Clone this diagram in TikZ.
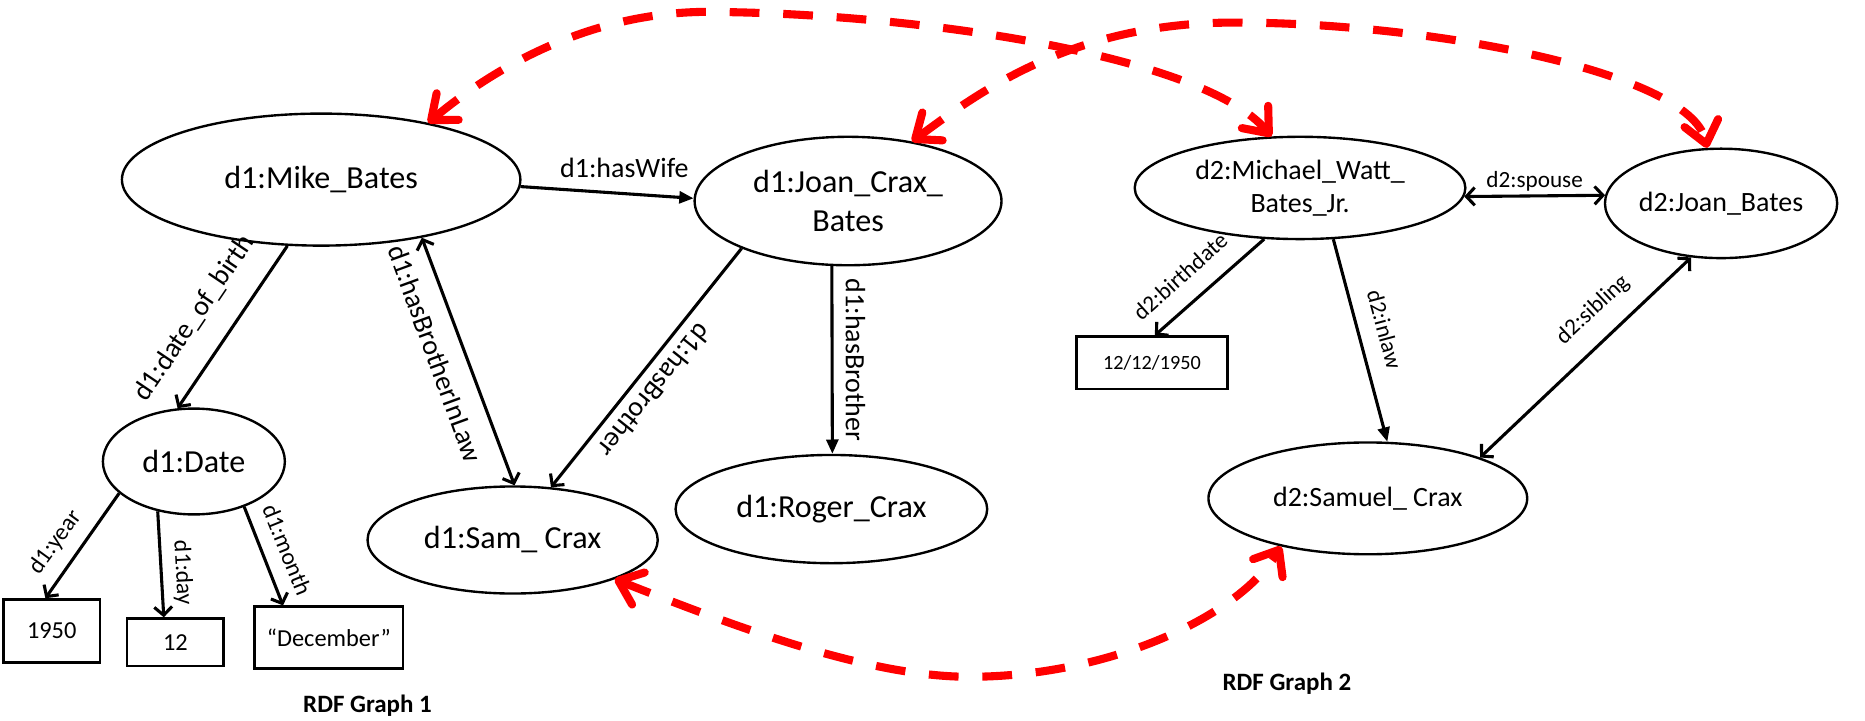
\documentclass[tikz,border=0pt]{standalone}
\usepackage{fontspec}
\setmainfont{Carlito}
\usetikzlibrary{shapes.geometric,arrows.meta}

\begin{document}
\begin{tikzpicture}[x=1pt,y=-1pt,
	ent_node/.style={ellipse,draw,line width=2pt,inner sep=0pt,align=center,font=\fontsize{27}{33}\selectfont},
	ent2_node/.style={ent_node,font=\fontsize{23.5}{28}\selectfont},
	lit_node/.style={rectangle,draw,line width=2pt,inner sep=0pt,font=\fontsize{20.5}{24}\selectfont},
	lit2_node/.style={lit_node,font=\fontsize{17}{20}\selectfont},
	rel_edge/.style={line width=2.6pt,-{Straight Barb[length=7pt,width=15pt]}},
	relf_edge/.style={line width=2.6pt,-{Triangle[length=12pt,width=10pt]}},
	sym_edge/.style={line width=2.6pt,{Straight Barb[length=7pt,width=15pt]}-{Straight Barb[length=7pt,width=15pt]}},
	link_edge/.style={draw=red,line width=6.8pt,dash pattern=on 25pt off 20pt,{Straight Barb[round,length=18pt,width=29pt]}-{Straight Barb[round,length=18pt,width=29pt]}},
	lbl/.style={font=\fontsize{23.5}{28}\selectfont},
	lbl_s/.style={font=\fontsize{20}{24}\selectfont},
	lbl2/.style={font=\fontsize{19.5}{23}\selectfont}]

	\useasboundingbox (0,0) rectangle (1568,606);

	\node[ent_node,minimum width=335pt,minimum height=111pt] (Mike) at (270,151) {d1:Mike\_Bates};
	\node[ent_node,minimum width=258pt,minimum height=108pt] (Joan) at (713,169) {d1:Joan\_Crax\_\\Bates};
	\node[ent_node,minimum width=153pt,minimum height=89pt] (Date) at (163,388) {d1:Date};
	\node[ent_node,minimum width=244pt,minimum height=90pt] (Sam) at (431,454) {d1:Sam\_ Crax};
	\node[ent_node,minimum width=262pt,minimum height=91pt] (Roger) at (699,428) {d1:Roger\_Crax};
	\node[lit_node,minimum width=81pt,minimum height=53pt] (Year) at (43.5,530.5) {1950};
	\node[lit_node,minimum width=81pt,minimum height=40pt] (Day) at (147.5,540) {12};
	\node[lit_node,minimum width=125pt,minimum height=52pt] (Month) at (276.5,536) {“December”};
	\node[font=\bfseries\fontsize{21}{25}\selectfont] (G1) at (309,593) {RDF Graph 1};

	\node[ent2_node,minimum width=278pt,minimum height=86pt] (Michael) at (1093,158) {d2:Michael\_Watt\_\\Bates\_Jr.};
	\node[ent2_node,minimum width=185pt,minimum height=92pt] (JoanB) at (1447,171) {d2:Joan\_Bates};
	\node[ent2_node,minimum width=268pt,minimum height=94pt] (Samuel) at (1150,419) {d2:Samuel\_ Crax};
	\node[lit2_node,minimum width=127pt,minimum height=44pt] (Bdate) at (968.5,305) {12/12/1950};
	\node[font=\bfseries\fontsize{21}{25}\selectfont] (G2) at (1082,575) {RDF Graph 2};

	\draw[relf_edge] (Mike.-2) -- node[lbl,pos=.6,anchor=south,inner sep=12pt] {d1:hasWife} (Joan.179);
	\draw[rel_edge] (Mike.-117) -- node[lbl,pos=.57,rotate=56,anchor=south,inner sep=20pt] {d1:date\_of\_birth} (Date.107);
	\draw[sym_edge] (Mike.-30) -- node[lbl,pos=.43,rotate=-70,anchor=north,inner sep=14pt] {d1:hasBrotherInLaw} (Sam.88);
	\draw[rel_edge] (Joan.-156) -- node[lbl,pos=.54,rotate=-128.6,anchor=south,inner sep=8pt] {d1:hasBrother} (Sam.54);
	\draw[relf_edge] (Joan.-104) -- node[lbl,pos=.5,rotate=-90,anchor=south,inner sep=10pt] {d1:hasBrother} (Roger.89);
	\draw[rel_edge] (Date.-157) -- node[lbl_s,pos=.6,rotate=54,anchor=south,inner sep=10pt] {d1:year} (Year.101);
	\draw[rel_edge] (Date.-126) -- node[lbl_s,pos=.59,rotate=-87,anchor=south,inner sep=8pt] {d1:day} (Day.115);
	\draw[rel_edge] (Date.-42) -- node[lbl_s,pos=.53,rotate=-68,anchor=south,inner sep=12pt] {d1:month} (Month.145);

	\draw[sym_edge] (Michael.-3) -- node[lbl2,anchor=south,inner sep=3pt] {d2:spouse} (JoanB.176);
	\draw[rel_edge] (Michael.-125) -- node[lbl2,pos=.6,rotate=42,anchor=south,inner sep=15pt] {d2:birthdate} (Bdate.84);
	\draw[relf_edge] (Michael.-57) -- node[lbl2,pos=.48,rotate=-75,anchor=south,inner sep=14pt] {d2:inlaw} (Samuel.71);
	\draw[sym_edge] (JoanB.-119) -- node[lbl2,pos=.37,rotate=43,anchor=south,inner sep=15pt] {d2:sibling} (Samuel.20);

	\draw[link_edge] (Mike.28) .. controls (400,70) and (480,12) .. (590,10) .. controls (760,10) and (1010,45) .. (Michael.119);
	\draw[link_edge] (Joan.43) .. controls (820,80) and (900,18) .. (1040,19) .. controls (1200,19) and (1420,60) .. (JoanB.104);
	\draw[link_edge] (Sam.-21) .. controls (621,528) and (730,569) .. (815,569) .. controls (930,569) and (1040,520) .. (Samuel.-151);
\end{tikzpicture}
\end{document}
